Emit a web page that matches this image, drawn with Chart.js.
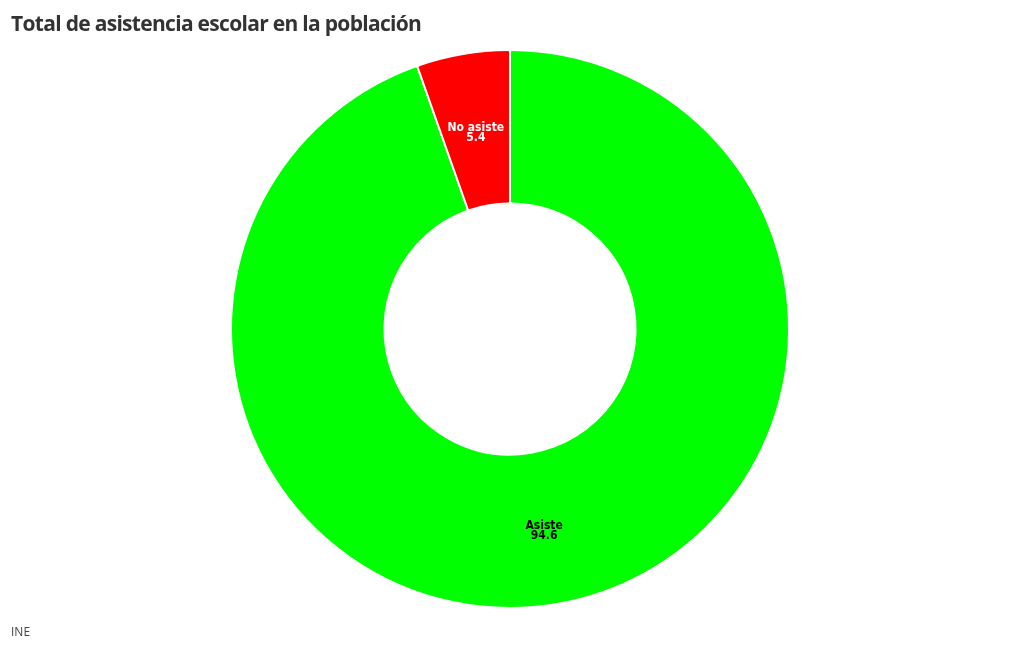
<!DOCTYPE html>
<html>
<head>
<meta charset="utf-8">
<script src="https://cdn.jsdelivr.net/npm/chart.js@4"></script>
<style>
  body { margin: 0; background: #fff; }
  #wrap { position: relative; width: 1020px; height: 650px; }
  #title { position: absolute; left: 11px; top: 9px; font-family: "Open Sans", sans-serif; font-weight: 700; font-size: 21px; color: #333; letter-spacing: -0.7px; }
  #source { position: absolute; left: 11px; top: 623px; font-family: "Open Sans", sans-serif; font-size: 12px; color: #444; }
  canvas { position: absolute; left: 0; top: 0; }
</style>
</head>
<body>
<div id="wrap">
  <canvas id="chart" width="1020" height="650"></canvas>
  <div id="title">Total de asistencia escolar en la población</div>
  <div id="source">INE</div>
</div>
<script>
const categories = ['Asiste', 'No asiste'];
const values = [94.6, 5.4];
const colors = ['#00ff00', '#ff0000'];
const labelColors = ['#000', '#fff'];

const ctx = document.getElementById('chart').getContext('2d');

// draws category + value in the middle of each slice
const sliceLabels = {
  id: 'sliceLabels',
  afterDatasetsDraw(chart) {
    const c = chart.ctx;
    chart.getDatasetMeta(0).data.forEach((arc, i) => {
      const p = arc.getCenterPoint();
      c.save();
      c.fillStyle = labelColors[i];
      c.font = 'bold 12px "DejaVu Sans Condensed", sans-serif';
      c.textAlign = 'center';
      c.textBaseline = 'middle';
      c.fillText(categories[i], p.x, p.y - 2);
      c.fillText(values[i].toFixed(1), p.x, p.y + 8);
      c.restore();
    });
  }
};

new Chart(ctx, {
  type: 'doughnut',
  data: {
    labels: categories,
    datasets: [{
      data: values,
      backgroundColor: colors,
      borderColor: '#fff',
      borderWidth: 2,
      borderRadius: 2
    }]
  },
  options: {
    responsive: false,
    animation: false,
    cutout: '45%',
    layout: { padding: { top: 49, bottom: 41, left: 0, right: 0 } },
    plugins: {
      legend: { display: false },
      tooltip: { enabled: false }
    }
  },
  plugins: [sliceLabels]
});
</script>
</body>
</html>
